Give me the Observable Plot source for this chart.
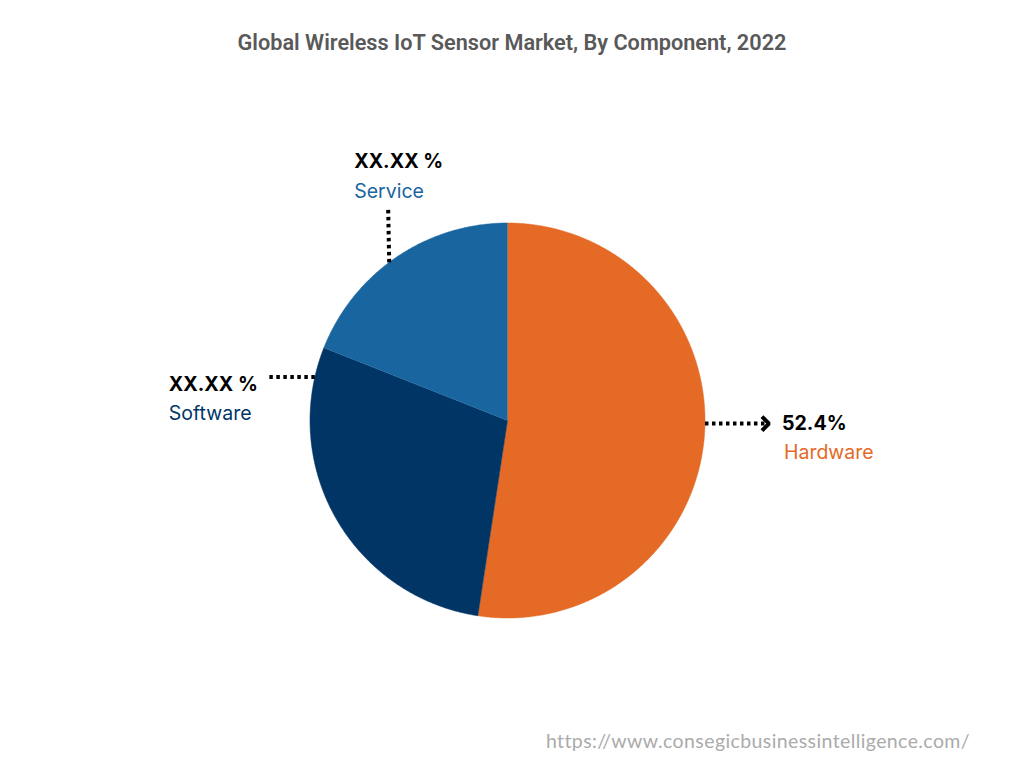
<!DOCTYPE html>
<html>
<head>
<meta charset="utf-8">
<script src="https://cdn.jsdelivr.net/npm/d3@7"></script>
<script src="https://cdn.jsdelivr.net/npm/@observablehq/plot@0.6"></script>
<style>
  body { margin: 0; background: white; }
  #page { position: relative; width: 1024px; height: 768px; overflow: hidden; }
  #title { position: absolute; left: 0; width: 1024px; top: 30px; text-align: center; font: 600 21.7px Roboto, sans-serif; color: #595959; }
  #source { position: absolute; right: 54px; top: 729px; font: 400 19.5px Lato, sans-serif; letter-spacing: 0.4px; color: #ababab; }
</style>
</head>
<body>
<div id="page">
  <div id="title">Global Wireless IoT Sensor Market, By Component, 2022</div>
  <div id="chart"></div>
  <div id="source">https://www.consegicbusinessintelligence.com/</div>
</div>
<script>
const names = ["Hardware", "Software", "Service"]
const shares = [52.4, 28.6, 19.0]
const valueLabels = ["52.4%", "XX.XX %", "XX.XX %"]
const colors = ["#E46A25", "#003566", "#19659F"]

// where the dotted leaders leave the pie (degrees clockwise from top) and how far they run, in px
const leaderAngles = [90.9, 282.7, 323.2]
const leaderRuns = [[64, 0], [-48, 0], [-1, 53]]
const labelOffsets = [[13, 0, 15, 29], [-98, 8, -98, 37], [-34, -48, -34, -18]]

const cx = 507, cy = 420, r = 197.5

const edge = (deg) => [Math.sin(deg * Math.PI / 180), Math.cos(deg * Math.PI / 180)]

// outline of each slice, from the shares
let start = 0
const slices = []
shares.forEach((s, i) => {
  const end = start + s / 100 * 360
  slices.push({name: names[i], x: 0, y: 0})
  d3.range(start, end, 0.5).concat([end]).forEach((a) => {
    const [x, y] = edge(a)
    slices.push({name: names[i], x, y})
  })
  start = end
})

const leaders = names.map((name, i) => {
  const [x1, y1] = edge(leaderAngles[i])
  const [rx, ry] = leaderRuns[i]
  const x2 = x1 + rx / r, y2 = y1 + ry / r
  const [vx, vy, nx, ny] = labelOffsets[i]
  return {
    name, value: valueLabels[i], x1, y1, x2, y2,
    vx: x2 + vx / r, vy: y2 - vy / r,
    nx: x2 + nx / r, ny: y2 - ny / r
  }
})

// chevron at the end of the Hardware leader
const hw = leaders[0]
const chevron = [[-7, 7], [0, 0], [-7, -7]].map(([dx, dy]) => ({x: hw.x2 + dx / r, y: hw.y2 + dy / r}))

const chart = Plot.plot({
  width: 1024,
  height: 768,
  margin: 0,
  x: {axis: null, domain: [-cx / r, (1024 - cx) / r], range: [0, 1024]},
  y: {axis: null, domain: [(cy - 768) / r, cy / r], range: [768, 0]},
  color: {domain: names, range: colors},
  style: {fontFamily: "Inter, sans-serif", background: "white"},
  marks: [
    Plot.line(slices, {x: "x", y: "y", z: "name", fill: "name", stroke: "name", strokeWidth: 0.5, curve: "linear"}),
    Plot.link(leaders, {x1: "x1", y1: "y1", x2: "x2", y2: "y2", stroke: "black", strokeWidth: 4, strokeDasharray: "3.5,3.5"}),
    Plot.line(chevron, {x: "x", y: "y", stroke: "black", strokeWidth: 4, strokeLinejoin: "miter", strokeLinecap: "butt"}),
    Plot.text(leaders, {x: "vx", y: "vy", text: "value", textAnchor: "start", fill: "black", fontSize: 19.6, fontWeight: 700}),
    Plot.text(leaders, {x: "nx", y: "ny", text: "name", textAnchor: "start", fill: "name", fontSize: 19.5, fontWeight: 400})
  ]
})

d3.select("#chart").append(() => chart)
</script>
</body>
</html>
